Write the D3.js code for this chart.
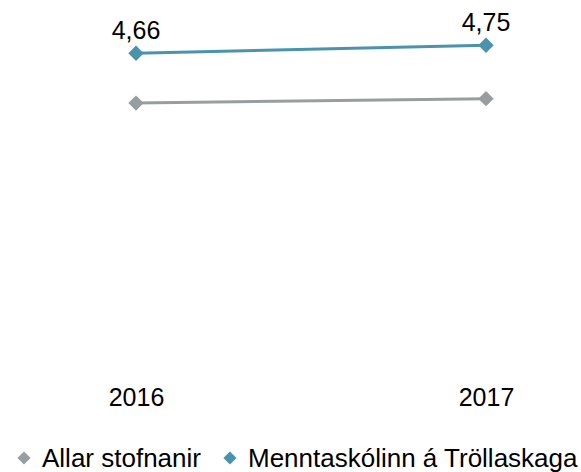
<!DOCTYPE html>
<html>
<head>
<meta charset="utf-8">
<script src="https://cdn.jsdelivr.net/npm/d3@7"></script>
<style>
  body { margin: 0; background: #fff; }
  text { font-family: "Liberation Sans", Arial, sans-serif; fill: #000; }
</style>
</head>
<body>
<div id="chart"></div>
<script>
// data
var years = ["2016", "2017"];
var seriesNames = ["Allar stofnanir", "Menntaskólinn á Tröllaskaga"];
var allarValues = [4.10, 4.15];
var mtrValues = [4.66, 4.75];
var colors = ["#999d9f", "#4a93ad"];

var width = 581, height = 472;
var fontSize = "25px";

var svg = d3.select("#chart")
  .append("svg")
    .attr("width", width)
    .attr("height", height);

// x: category points
var x = d3.scalePoint()
    .domain(years)
    .range([136, 486]);

// y: hidden 1-5 scale
var y = d3.scaleLinear()
    .domain([1, 5])
    .range([379, 23]);

// x axis labels only
var xAxis = svg.append("g")
    .attr("transform", "translate(0,379)")
    .call(d3.axisBottom(x).tickSize(0).tickPadding(9));
xAxis.select(".domain").remove();
xAxis.selectAll("text")
    .style("font-size", fontSize)
    .style("font-family", "Liberation Sans, Arial, sans-serif")
    .attr("dy", "0.71em");

var series = [
  {name: seriesNames[0], values: allarValues, color: colors[0], labels: false},
  {name: seriesNames[1], values: mtrValues, color: colors[1], labels: true}
];

var line = d3.line()
    .x(function(d, i) { return x(years[i]); })
    .y(function(d) { return y(d); });

var diamond = d3.symbol().type(d3.symbolDiamond2).size(150);

series.forEach(function(s) {
  svg.append("path")
    .datum(s.values)
    .attr("d", line)
    .attr("fill", "none")
    .attr("stroke", s.color)
    .attr("stroke-width", 3);

  svg.selectAll(null)
    .data(s.values)
    .enter()
    .append("path")
    .attr("d", diamond)
    .attr("transform", function(d, i) { return "translate(" + x(years[i]) + "," + y(d) + ")"; })
    .attr("fill", s.color);

  if (s.labels) {
    svg.selectAll(null)
      .data(s.values)
      .enter()
      .append("text")
      .attr("x", function(d, i) { return x(years[i]); })
      .attr("y", function(d) { return y(d) - 14; })
      .attr("text-anchor", "middle")
      .style("font-size", fontSize)
      .text(function(d) { return d3.format(".2f")(d).replace(".", ","); });
  }
});

// legend
var legend = svg.append("g").attr("transform", "translate(0,458)");
var lx = 24;
series.forEach(function(s) {
  legend.append("path")
    .attr("d", d3.symbol().type(d3.symbolDiamond2).size(110))
    .attr("transform", "translate(" + lx + ",0)")
    .attr("fill", s.color);
  var t = legend.append("text")
    .attr("x", lx + 18)
    .attr("y", 9)
    .style("font-size", "26px")
    .text(s.name);
  lx = lx + 18 + t.node().getComputedTextLength() + 29;
});
</script>
</body>
</html>
